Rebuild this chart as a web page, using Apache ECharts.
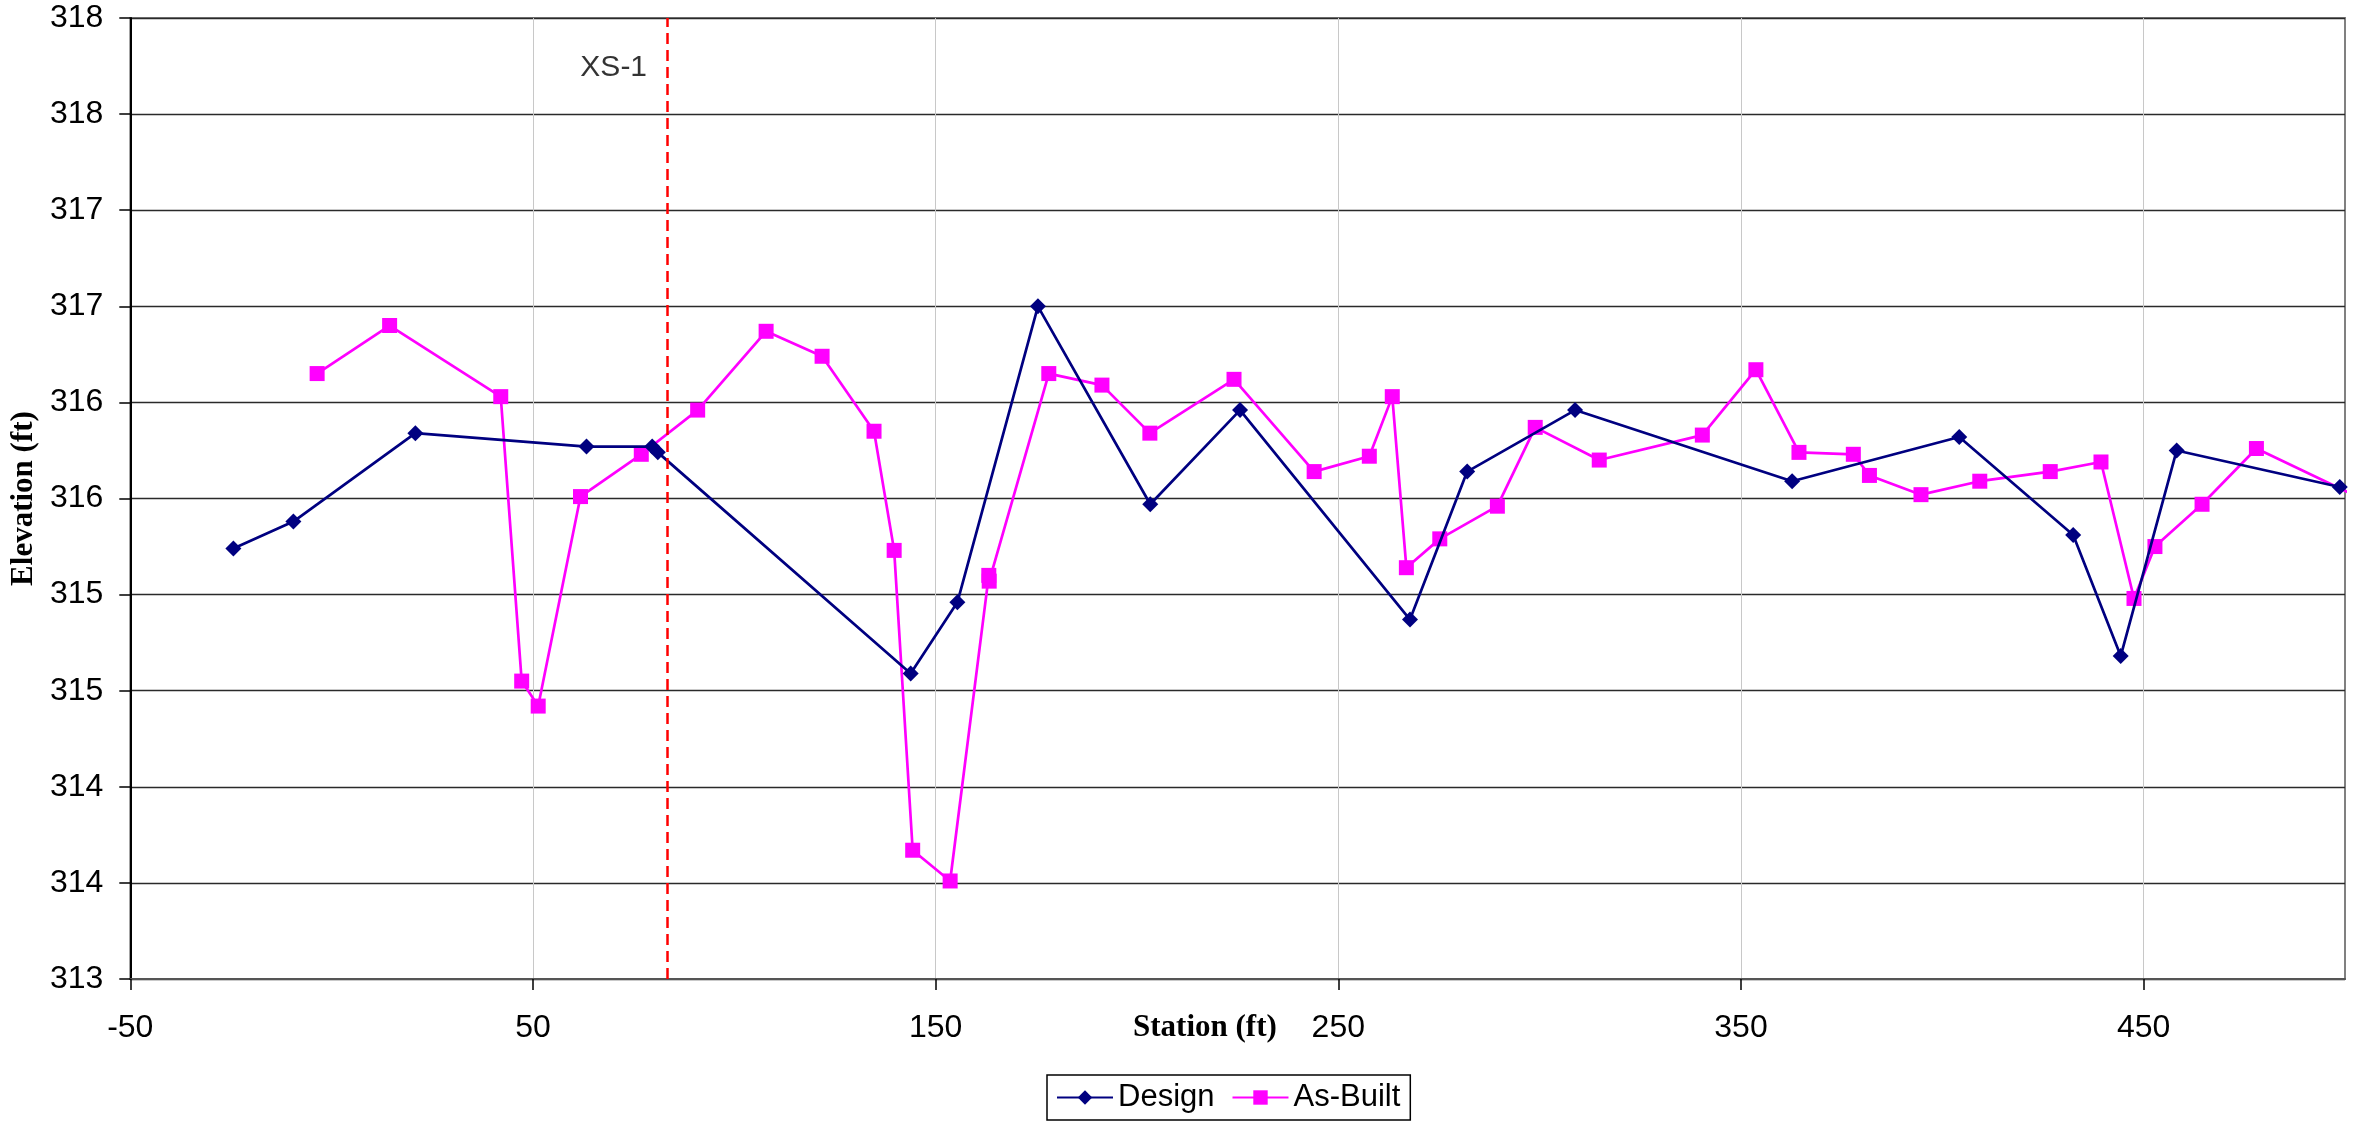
<!DOCTYPE html>
<html>
<head>
<meta charset="utf-8">
<script src="https://cdn.jsdelivr.net/npm/echarts@6/dist/echarts.min.js"></script>
<style>
  html, body { margin: 0; padding: 0; background: #fff; }
  #chart { width: 2365px; height: 1126px; }
</style>
</head>
<body>
<div id="chart"></div>
<script>
// ---- Data ----
const designStation = [-24.4, -9.5, 20.8, 63.3, 79.6, 81.0, 143.8, 155.4, 175.4, 203.3, 225.6, 267.8, 282.0, 308.8, 362.7, 404.2, 432.5, 444.3, 458.2, 498.7];
const designElev    = [315.24, 315.38, 315.84, 315.77, 315.77, 315.74, 314.59, 314.96, 316.50, 315.47, 315.96, 314.87, 315.64, 315.96, 315.59, 315.82, 315.31, 314.68, 315.75, 315.56];

const asBuiltStation = [-3.6, 14.4, 42.0, 47.2, 51.3, 61.8, 76.9, 90.9, 107.9, 121.8, 134.7, 139.7, 144.3, 153.6, 163.2, 163.3, 178.1, 191.3, 203.2, 224.1, 244.0, 257.7, 263.4, 266.9, 275.2, 289.5, 298.9, 314.8, 340.4, 353.7, 364.4, 377.9, 381.9, 394.7, 409.3, 426.8, 439.4, 447.6, 452.8, 464.5, 478.0, 503.0];
const asBuiltElev    = [316.15, 316.40, 316.03, 314.55, 314.42, 315.51, 315.73, 315.96, 316.37, 316.24, 315.85, 315.23, 313.67, 313.51, 315.10, 315.07, 316.15, 316.09, 315.84, 316.12, 315.64, 315.72, 316.03, 315.14, 315.29, 315.46, 315.87, 315.70, 315.83, 316.17, 315.74, 315.73, 315.62, 315.52, 315.59, 315.64, 315.69, 314.98, 315.25, 315.47, 315.76, 315.51];

const xsStation = 83.3;
const xsLabel = 'XS-1';
const xsLabelElev = 317.74;

const xTickLabels = [-50, 50, 150, 250, 350, 450];
const seriesNames = ['Design', 'As-Built'];
const xAxisName = 'Station (ft)';
const yAxisName = 'Elevation (ft)';

// ---- Build chart ----
const pairs = (xs, ys) => xs.map((x, i) => [x, ys[i]]);
const sans = "'Liberation Sans', Arial, sans-serif";
const serif = "'Liberation Serif', 'Times New Roman', serif";

const chart = echarts.init(document.getElementById('chart'), null, { renderer: 'canvas' });

chart.setOption({
  animation: false,
  backgroundColor: '#ffffff',
  grid: {
    left: 130, right: 20, top: 18, bottom: 147,
    show: true, borderColor: '#808080', borderWidth: 2, backgroundColor: 'transparent'
  },
  legend: {
    data: seriesNames,
    left: 1047, top: 1075,
    orient: 'horizontal',
    itemWidth: 56, itemHeight: 18, itemGap: 17,
    padding: [7, 10, 7, 9],
    borderColor: '#000', borderWidth: 1.5,
    textStyle: { fontFamily: sans, fontSize: 31, color: '#000' }
  },
  xAxis: {
    type: 'value',
    min: -50, max: 500, interval: 50,
    axisLine: { show: true, onZero: false, lineStyle: { color: '#555', width: 2 } },
    axisTick: { show: true, length: 11, customValues: xTickLabels, lineStyle: { color: '#000', width: 1.5 } },
    axisLabel: {
      customValues: xTickLabels,
      margin: 33,
      fontFamily: sans, fontSize: 32, color: '#000',
      formatter: v => (xTickLabels.indexOf(v) >= 0 ? String(v) : '')
    },
    splitLine: { show: true, lineStyle: { color: '#c8c8c8', width: 1 } }
  },
  yAxis: {
    type: 'value',
    min: 313, max: 318, interval: 0.5,
    name: yAxisName,
    nameLocation: 'middle',
    nameGap: 86,
    nameRotate: 90,
    nameTextStyle: { fontFamily: serif, fontWeight: 'bold', fontSize: 31, color: '#000' },
    axisLine: { show: true, onZero: false, lineStyle: { color: '#000', width: 2 } },
    axisTick: { show: true, inside: false, length: 11, lineStyle: { color: '#000', width: 1.5 } },
    axisLabel: {
      margin: 27,
      fontFamily: sans, fontSize: 32, color: '#000',
      formatter: v => String(Math.round(v))
    },
    splitLine: { show: true, lineStyle: { color: '#2a2a2a', width: 1.3 } }
  },
  graphic: [
    {
      type: 'text',
      left: 1206 - 73, top: 1012,
      style: { text: xAxisName, font: "bold 31px 'Liberation Serif', 'Times New Roman', serif", fill: '#000' }
    }
  ],
  series: [
    {
      name: 'XS',
      type: 'line',
      data: [],
      silent: true,
      markLine: {
        silent: true,
        symbol: ['none', 'none'],
        label: { show: false },
        lineStyle: { color: '#ff0000', width: 2.5, type: [11, 6] },
        data: [{ xAxis: xsStation }]
      }
    },
    {
      name: 'XSLabel',
      type: 'scatter',
      data: [[xsStation, xsLabelElev]],
      symbolSize: 0,
      silent: true,
      label: {
        show: true, position: 'left', distance: 20,
        formatter: xsLabel,
        fontFamily: sans, fontSize: 30, color: '#000'
      }
    },
    {
      name: seriesNames[0],
      type: 'line',
      data: pairs(designStation, designElev),
      symbol: 'diamond',
      symbolSize: 16,
      showAllSymbol: true,
      itemStyle: { color: '#000080' },
      lineStyle: { color: '#000080', width: 2.7 },
      z: 3
    },
    {
      name: seriesNames[1],
      type: 'line',
      data: pairs(asBuiltStation, asBuiltElev),
      symbol: 'rect',
      symbolSize: 15,
      showAllSymbol: true,
      itemStyle: { color: '#ff00ff' },
      lineStyle: { color: '#ff00ff', width: 2.7 },
      z: 2
    }
  ]
});
</script>
</body>
</html>
